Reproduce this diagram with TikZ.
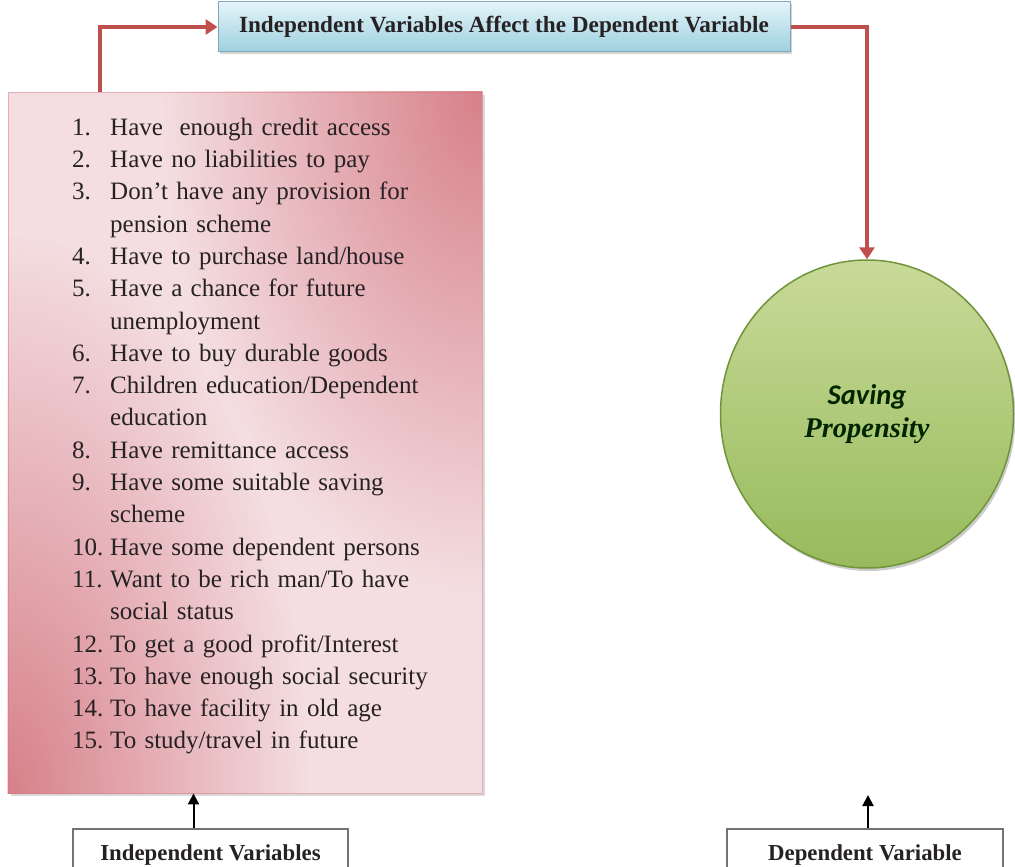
\documentclass[tikz,border=0pt]{standalone}
\usepackage{fontspec}
\setmainfont{Liberation Serif}
\newfontfamily\calfont{Carlito}
\usetikzlibrary{shapes.geometric,arrows.meta,positioning,shadows,fadings}
\definecolor{linkred}{RGB}{192,80,77}
\definecolor{boxpink}{RGB}{244,222,225}
\definecolor{boxred}{RGB}{212,118,128}
\definecolor{capblue}{RGB}{228,244,249}
\definecolor{capbluedk}{RGB}{158,208,224}
\definecolor{capedge}{RGB}{128,168,184}
\definecolor{ballgreen}{RGB}{200,218,152}
\definecolor{ballgreendk}{RGB}{152,186,92}
\definecolor{balledge}{RGB}{112,148,58}
\definecolor{inktext}{RGB}{38,34,36}
\tikzfading[name=softblob, inner color=transparent!10, outer color=transparent!100]

% one numbered line of the list
\newcommand{\itm}[2]{\par\noindent\hangindent=38pt\hangafter=1\makebox[38pt][l]{#1}#2}

\begin{document}
\begin{tikzpicture}[x=1pt,y=-1pt,
  headbox/.style={draw=capedge,line width=1pt,top color=capblue,bottom color=capbluedk,minimum width=572pt,minimum height=50pt,inner sep=0pt,text=inktext,font=\bfseries\fontsize{23.2}{27}\selectfont,drop shadow={opacity=0.35,shadow xshift=2pt,shadow yshift=-2pt}},
  varbox/.style={draw=boxred!60!white,line width=0.8pt,fill=boxpink,minimum width=474pt,minimum height=701pt,inner sep=0pt,drop shadow={opacity=0.3,shadow xshift=3pt,shadow yshift=-3pt}},
  ball/.style={ellipse,draw=balledge,line width=1.5pt,top color=ballgreen,bottom color=ballgreendk,minimum width=293pt,minimum height=308pt,inner sep=0pt,align=center,text=black!85!green,font=\bfseries\itshape\fontsize{28.5}{33}\selectfont,drop shadow={opacity=0.4,shadow xshift=2pt,shadow yshift=-3pt}},
  labbox/.style={draw=black!55,line width=1.5pt,fill=white,anchor=north,inner xsep=0pt,inner ysep=16pt,text height=16pt,text depth=5pt,text=inktext,font=\bfseries\fontsize{22.8}{27}\selectfont},
  redarr/.style={-{Triangle[width=15pt,length=12pt]},draw=linkred,line width=3.8pt},
  blkarr/.style={-{Triangle[width=11pt,length=11pt]},line width=2pt}
]
\useasboundingbox (0,0) rectangle (1015,867);

% Boxes
\node[headbox] (head)   at (504,27)  {Independent Variables Affect the Dependent Variable};
\node[varbox]  (indbox) at (245,442.5) {};
\begin{scope}
  \clip (indbox.north west) rectangle (indbox.south east);
  \fill[boxred,path fading=softblob] (indbox.north east) ellipse (320 and 500);
  \fill[boxred,path fading=softblob] (indbox.south west) ellipse (300 and 560);
\end{scope}
\node[anchor=base west,text width=380pt,align=left,inner sep=0pt,text=inktext,font=\fontsize{25}{32.3}\selectfont] (items) at (72,103) {%
\itm{1.}{Have\ \ enough credit access}
\itm{2.}{Have no liabilities to pay}
\itm{3.}{Don’t have any provision for\newline pension scheme}
\itm{4.}{Have to purchase land/house}
\itm{5.}{Have a chance for future\newline unemployment}
\itm{6.}{Have to buy durable goods}
\itm{7.}{Children education/Dependent\newline education}
\itm{8.}{Have remittance access}
\itm{9.}{Have some suitable saving\newline scheme}
\itm{10.}{Have some dependent persons}
\itm{11.}{Want to be rich man/To have\newline social status}
\itm{12.}{To get a good profit/Interest}
\itm{13.}{To have enough social security}
\itm{14.}{To have facility in old age}
\itm{15.}{To study/travel in future}\par};
\node[ball] (saving) at (867,414) {{\calfont Saving}\\Propensity};
\node[labbox,minimum width=275pt] (indlab) at (210.5,828) {Independent Variables};
\node[labbox,minimum width=276pt] (deplab) at (865,828)   {Dependent Variable};

% Links
\draw[redarr] ([xshift=92pt]indbox.north west) |- (head.west);
\draw[redarr] (head.east) -| (saving.north);
\coordinate (indfoot) at ([xshift=-17pt]indlab.north);
\coordinate (deptip)  at (868,795);
\draw[blkarr] (indfoot) -- (indfoot |- indbox.south);
\draw[blkarr] (deptip |- deplab.north) -- (deptip);
\end{tikzpicture}
\end{document}
